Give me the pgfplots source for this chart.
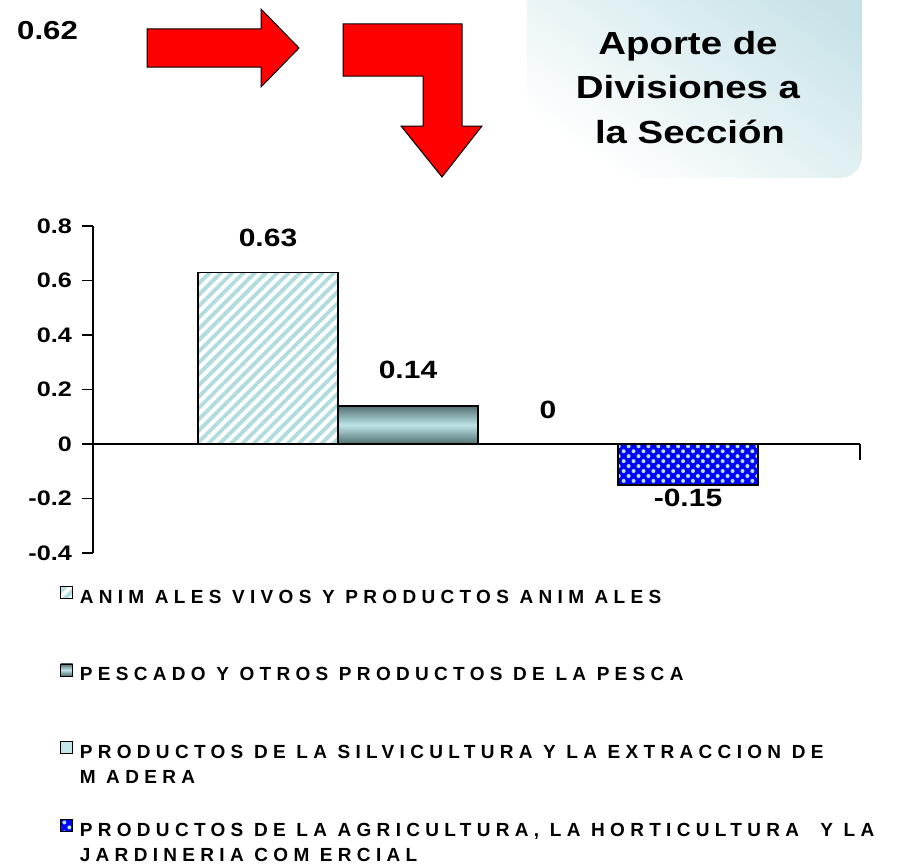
\documentclass[border=0pt]{standalone}
\usepackage{fontspec}
\setmainfont{Liberation Sans}
\newfontfamily\tickfont[FakeStretch=1.2]{Liberation Sans}
\newfontfamily\legfont[LetterSpace=28]{Liberation Sans}
\usepackage{pgfplots}
\pgfplotsset{compat=1.18}
\usetikzlibrary{patterns.meta}
\definecolor{stripe}{HTML}{B0DCE0}
\definecolor{tealdark}{HTML}{4F6F70}
\definecolor{teallight}{HTML}{BEE4E8}
\definecolor{silv}{HTML}{C4E6EA}
\definecolor{dotc}{HTML}{B0E4F4}
\definecolor{boxblue}{HTML}{C8E3E8}
\begin{document}
\begin{tikzpicture}
\useasboundingbox (0,0) rectangle (901pt,-867pt);
\begin{scope}[x=1pt,y=-1pt]
  \shade[rounded corners=22pt, top color=boxblue, bottom color=white, shading angle=-35]
    (527,-30) rectangle (862,178);
  \node[anchor=base, font=\tickfont\bfseries\fontsize{32}{32}\selectfont] at (688,55) {Aporte de};
  \node[anchor=base, font=\tickfont\bfseries\fontsize{32}{32}\selectfont] at (688,98) {Divisiones a};
  \node[anchor=base, font=\tickfont\bfseries\fontsize{32}{32}\selectfont] at (690,143) {la Sección};
  \node[anchor=base west, inner sep=0pt, font=\tickfont\bfseries\fontsize{26}{26}\selectfont] at (17,40) {0.62};
  \filldraw[fill=red, draw=black, line width=1pt]
    (147,29) -- (261,29) -- (261,9) -- (299,48) -- (261,87) -- (261,67) -- (147,67) -- cycle;
  \filldraw[fill=red, draw=black, line width=1pt]
    (343,24) -- (462,24) -- (462,126) -- (482,126) -- (442,177) -- (401,126) -- (423,126) -- (423,76) -- (343,76) -- cycle;
  \draw[line width=1.4pt] (860,444) -- (860,460);
\end{scope}
\begin{axis}[
  at={(93pt,-553pt)}, anchor=south west,
  scale only axis, width=767pt, height=327pt,
  xmin=0, xmax=7.67, ymin=-0.4, ymax=0.8,
  axis x line=middle, axis y line=left,
  axis line style={-, line width=1.4pt},
  xtick=\empty,
  ytick={-0.4,-0.2,0,0.2,0.4,0.6,0.8},
  yticklabels={-0.4,-0.2,0,0.2,0.4,0.6,0.8},
  yticklabel style={font=\tickfont\bfseries\fontsize{21}{21}\selectfont, inner sep=0pt, xshift=-10pt},
  tick align=outside, major tick length=11pt,
  tick style={line width=1.4pt, black},
  clip=false,
  ybar, bar width=1.4, bar shift=0pt,
  point meta=explicit symbolic,
  nodes near coords,
  every node near coord/.append style={font=\tickfont\bfseries\fontsize{25}{25}\selectfont, text=black},
  legend image code/.code={\draw[#1, line width=0.6pt] (0pt,-1pt) rectangle (12pt,11pt);},
  legend style={at={(-0.043,-0.1)}, anchor=north west, draw=none, fill=none,
    inner sep=0pt, row sep=59pt, column sep=7pt, nodes={inner sep=0pt},
    font=\legfont\bfseries\fontsize{19}{25}\selectfont},
  legend cell align=left,
]
\addplot[draw=black, line width=1.4pt, preaction={fill=white},
  pattern={Lines[angle=45,distance=8pt,line width=3.8pt]}, pattern color=stripe,
  every node near coord/.append style={yshift=22pt}]
  coordinates {(1.75,0.63) [0.63]};
\addlegendentry{ANIM ALES VIVOS Y PRODUCTOS ANIM ALES}
\addplot[draw=black, line width=1.4pt, top color=tealdark, bottom color=tealdark, middle color=teallight,
  every node near coord/.append style={yshift=23pt}]
  coordinates {(3.15,0.14) [0.14]};
\addlegendentry{PESCADO Y OTROS PRODUCTOS DE LA PESCA}
\addplot[draw=black, line width=1.4pt, fill=silv,
  every node near coord/.append style={yshift=21pt}]
  coordinates {(4.55,0) [0]};
\addlegendentry{\parbox[t]{800pt}{PRODUCTOS DE LA SILVICULTURA Y LA EXTRACCION DE\\M ADERA}}
\addplot[draw=black, line width=1.4pt, preaction={fill=blue},
  pattern={Dots[radius=2pt,distance=7pt,angle=45]}, pattern color=dotc,
  every node near coord/.append style={anchor=north}]
  coordinates {(5.95,-0.15) [-0.15]};
\addlegendentry{\parbox[t]{820pt}{PRODUCTOS DE LA AGRICULTURA, LA HORTICULTURA\ \ Y LA\\JARDINERIA COM ERCIAL}}
\end{axis}
\end{tikzpicture}
\end{document}
